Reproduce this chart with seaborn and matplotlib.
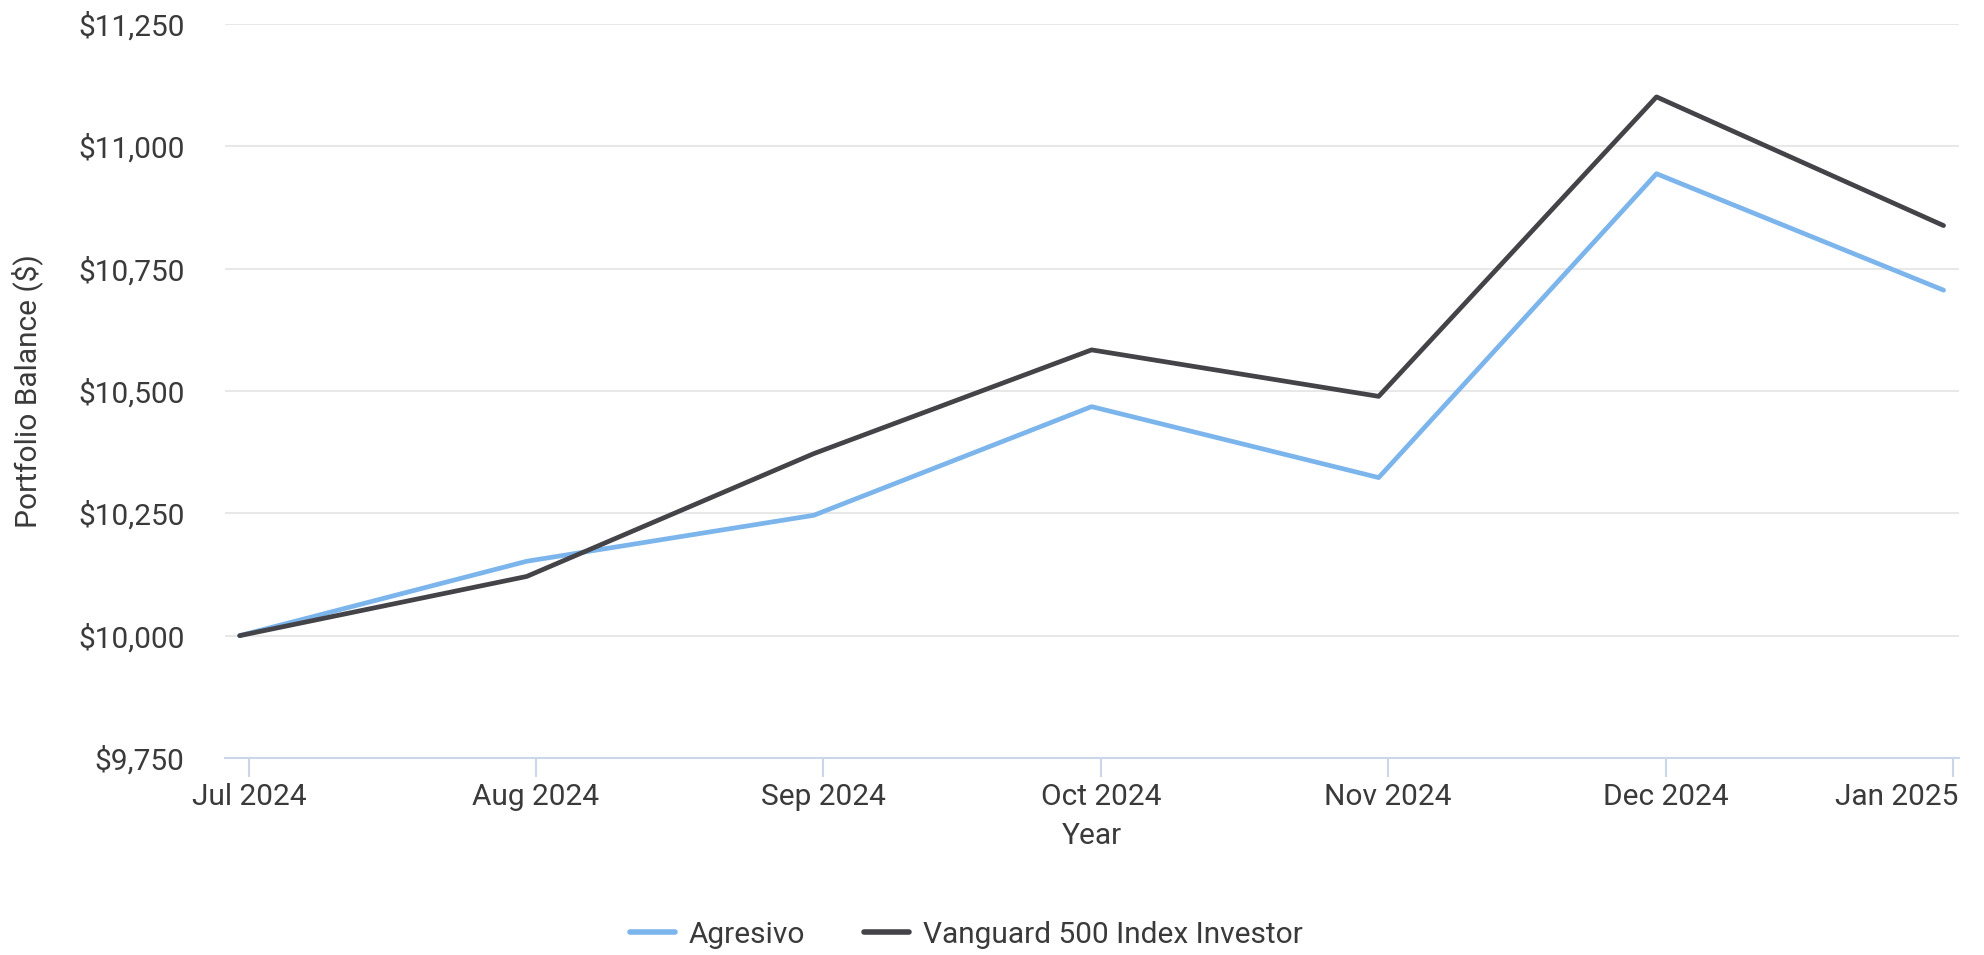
import pandas as pd
import seaborn as sns
import matplotlib.pyplot as plt
import matplotlib.dates as mdates
from matplotlib.ticker import FuncFormatter
from matplotlib.transforms import ScaledTranslation

# Daten (Monatsende-Werte)
dates = ['2024-06-30', '2024-07-31', '2024-08-31', '2024-09-30',
         '2024-10-31', '2024-11-30', '2024-12-31']
agresivo = [10000, 10152, 10246, 10468, 10323, 10944, 10706]
vanguard = [10000, 10121, 10372, 10584, 10489, 11101, 10838]
series_names = ['Agresivo', 'Vanguard 500 Index Investor']
colors = ['#7cb5ec', '#434348']
tick_dates = ['2024-07-01', '2024-08-01', '2024-09-01', '2024-10-01',
              '2024-11-01', '2024-12-01', '2025-01-01']
y_ticks = [9750, 10000, 10250, 10500, 10750, 11000, 11250]

df = pd.DataFrame({
    'date': pd.to_datetime(dates * 2),
    'value': agresivo + vanguard,
    'series': [series_names[0]] * len(dates) + [series_names[1]] * len(dates),
})

sns.set_theme(style='white')
plt.rcParams['font.family'] = ['Roboto', 'DejaVu Sans']
text_color = '#3a3a3a'
fs = 21.5

fig = plt.figure(figsize=(19.84, 9.55), dpi=100)
ax = fig.add_axes([0.1134, 0.2063, 0.8740, 0.7686])

sns.lineplot(data=df, x='date', y='value', hue='series', hue_order=series_names,
             palette=colors, linewidth=3.4, ax=ax, legend=True)

# Achsen
ax.set_ylim(9750, 11250)
ax.set_xlim(pd.Timestamp('2024-06-28 10:00'), pd.Timestamp('2025-01-01 16:00'))
ax.set_yticks(y_ticks)
ax.yaxis.set_major_formatter(FuncFormatter(lambda v, p: f'${v:,.0f}'))
ax.set_xticks(pd.to_datetime(tick_dates))
ax.xaxis.set_major_formatter(mdates.DateFormatter('%b %Y'))

ax.grid(axis='y', color='#e6e6e6', linewidth=1.3)
ax.grid(axis='x', visible=False)
for s in ['left', 'right', 'top']:
    ax.spines[s].set_visible(False)
ax.spines['bottom'].set_color('#ccd6eb')
ax.spines['bottom'].set_linewidth(1.5)

ax.tick_params(axis='x', colors='#ccd6eb', length=14, width=1.5, direction='out',
               labelcolor=text_color, labelsize=fs, pad=4)
ax.tick_params(axis='y', length=0, labelcolor=text_color, labelsize=fs, pad=29)
ax.tick_params(axis='x', bottom=True)

# letztes Label nach links schieben wie im Original
last = ax.get_xticklabels()[-1]
last.set_horizontalalignment('right')
last.set_transform(last.get_transform() + ScaledTranslation(4 / 72, 0, fig.dpi_scale_trans))

ax.set_xlabel('Year', fontsize=fs, color=text_color, labelpad=8)
ax.set_ylabel('Portfolio Balance ($)', fontsize=fs, color=text_color, labelpad=25)

# Legende unten
handles, labels = ax.get_legend_handles_labels()
ax.legend_.remove()
for h in handles:
    h.set_linewidth(4)
fig.legend(handles, labels, loc='center', bbox_to_anchor=(0.487, 0.021), ncol=2,
           frameon=False, fontsize=fs, labelcolor=text_color, handlelength=1.5,
           handletextpad=0.45, columnspacing=2.0)

fig.savefig('out.png', dpi=100)
